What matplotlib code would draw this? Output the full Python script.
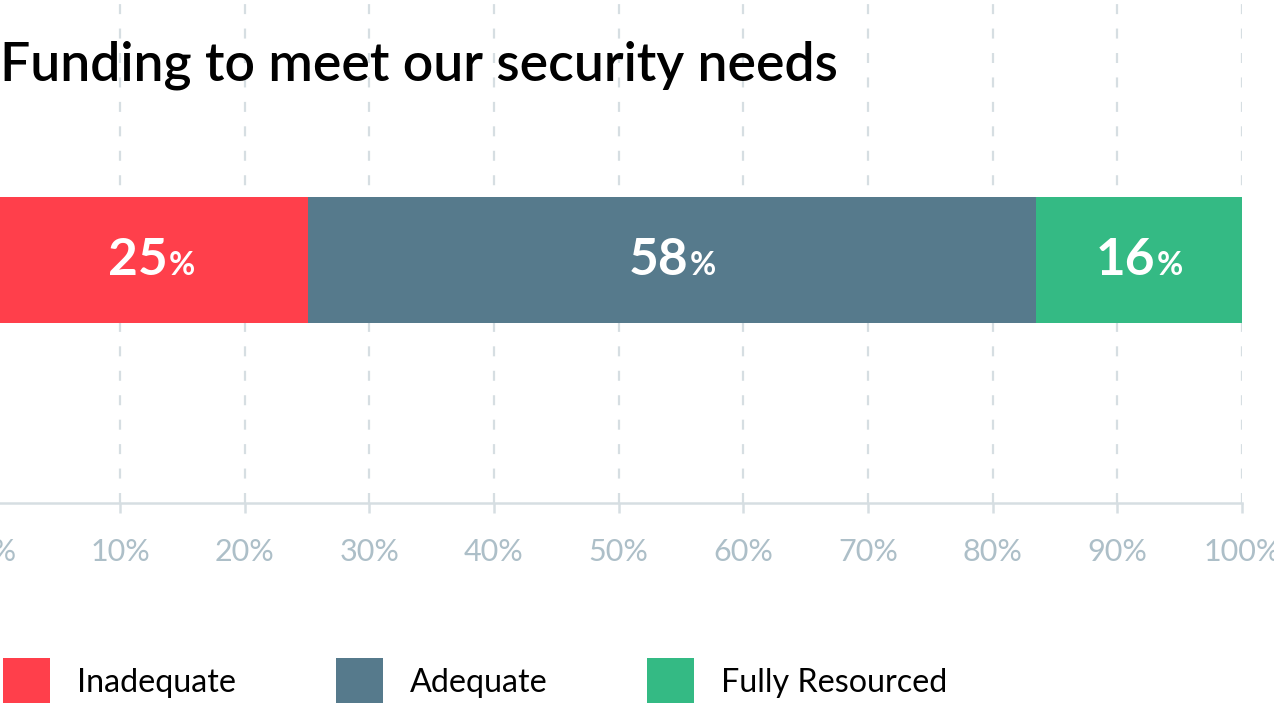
import matplotlib.pyplot as plt
from matplotlib.patches import Patch
from matplotlib.offsetbox import TextArea, HPacker, AnnotationBbox

plt.rcParams["font.family"] = ["Lato", "DejaVu Sans"]

# data
categories = ["Inadequate", "Adequate", "Fully Resourced"]
shares = [25.1, 58.4, 16.5]
labels = ["25", "58", "16"]
colors = ["#FF3F4B", "#567A8C", "#34BA84"]

grid_color = "#D6DEE2"
tick_color = "#ADBFC8"

W, H = 1274, 703
fig = plt.figure(figsize=(W / 100, H / 100), dpi=100)
ax = fig.add_axes([-4.7 / W, 200 / H, 1246.7 / W, 503 / H])

left = 0
for cat, val, lab, col in zip(categories, shares, labels, colors):
    ax.barh(0, val, left=left, height=0.5, color=col, zorder=3, label=cat)
    num = TextArea(lab, textprops=dict(color="white", fontsize=37, fontweight="bold"))
    pct = TextArea("%", textprops=dict(color="white", fontsize=23, fontweight="bold"))
    box = HPacker(children=[num, pct], align="baseline", pad=0, sep=1)
    ab = AnnotationBbox(box, (left + val / 2, 0), frameon=False,
                        box_alignment=(0.5, 0.5), zorder=4)
    ax.add_artist(ab)
    left += val

ax.set_xlim(0, 100)
ax.set_ylim(-0.966, 1.034)
ax.set_xticks(range(0, 101, 10))
ax.set_xticklabels([f"{v}%" for v in range(0, 101, 10)])
ax.set_yticks([])

ax.grid(axis="x", color=grid_color, linewidth=1.6, linestyle=(0, (4.5, 6.5)), zorder=0)
ax.set_axisbelow(True)
for side in ["top", "left", "right"]:
    ax.spines[side].set_visible(False)
ax.spines["bottom"].set_color(grid_color)
ax.spines["bottom"].set_linewidth(1.8)
ax.tick_params(axis="x", length=7.5, width=1.8, color=grid_color,
               labelcolor=tick_color, labelsize=22, pad=18)

fig.text(0.0, 1 - 80 / H, "Funding to meet our security needs",
         fontsize=38.5, fontweight="semibold", color="black", ha="left", va="baseline")

handles = [Patch(facecolor=c, edgecolor="none") for c in colors]
fig.legend(handles, categories, loc="lower left", bbox_to_anchor=(3 / W, -2 / H),
           ncol=3, frameon=False, fontsize=23.2, handlelength=1.47, handleheight=1.85,
           handletextpad=0.82, columnspacing=3.1, borderpad=0, borderaxespad=0)

fig.savefig("out.png", dpi=100)
